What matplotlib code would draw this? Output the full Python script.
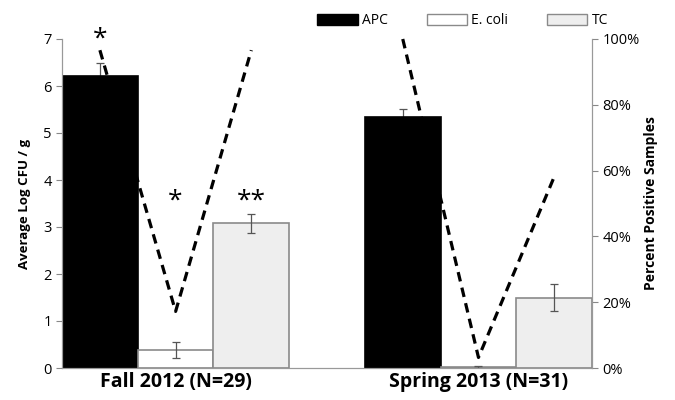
import matplotlib.pyplot as plt
from matplotlib.patches import Patch
from matplotlib.ticker import PercentFormatter

plt.rcParams['font.family'] = ['Open Sans', 'DejaVu Sans']

# data
seasons = ['Fall 2012 (N=29)', 'Spring 2013 (N=31)']
organisms = ['APC', 'E. coli', 'TC']
fall_log = [6.22, 0.39, 3.08]
fall_err = [0.28, 0.17, 0.20]
spring_log = [5.33, 0.03, 1.50]
spring_err = [0.18, 0.02, 0.28]
fall_pct = [0.966, 0.172, 0.966]
spring_pct = [1.0, 0.032, 0.581]
fall_marks = ['*', '*', '**']

colors = ['black', 'white', '#eeeeee']
edges = ['black', '#8a8a8a', '#8a8a8a']

fig = plt.figure(figsize=(6.75, 4), dpi=100)
ax = fig.add_axes([0.0919, 0.08, 0.7852, 0.8225])

group_x = [[0.5, 1.5, 2.5], [4.5, 5.5, 6.5]]
logs = [fall_log, spring_log]
errs = [fall_err, spring_err]
for g in range(2):
    for i in range(3):
        ax.bar(group_x[g][i], logs[g][i], width=1.0, color=colors[i],
               edgecolor=edges[i], linewidth=1.2, zorder=2)
        # APC whisker sits behind the black bar, only the top half shows
        z = 1 if i == 0 else 3
        ax.errorbar(group_x[g][i], logs[g][i], yerr=errs[g][i], fmt='none',
                    ecolor='#555555', elinewidth=0.9, capsize=3, capthick=0.9, zorder=z)

ax.set_xlim(0, 7)
ax.set_ylim(0, 7)
ax.set_yticks(range(8))
ax.set_xticks([1.5, 5.5])
ax.set_xticklabels(seasons, fontsize=14, fontweight='bold')
ax.tick_params(axis='x', length=0, pad=3)
ax.tick_params(axis='y', labelsize=10.5, colors='#888888', labelcolor='black', length=4)
ax.set_ylabel('Average Log CFU / g', fontsize=9.5, fontweight='bold', labelpad=9)
for s in ['left', 'bottom', 'right']:
    ax.spines[s].set_color('#999999')
ax.spines['top'].set_visible(False)

ax2 = ax.twinx()
ax2.plot(group_x[0], fall_pct, color='black', ls=(0, (3, 2)), lw=2.3, zorder=4, clip_on=False)
ax2.plot(group_x[1], spring_pct, color='black', ls=(0, (3, 2)), lw=2.3, zorder=4, clip_on=False)
ax2.set_ylim(0, 1)
ax2.set_yticks([0, 0.2, 0.4, 0.6, 0.8, 1.0])
ax2.yaxis.set_major_formatter(PercentFormatter(1.0, decimals=0))
ax2.tick_params(axis='y', labelsize=10.5, colors='#888888', labelcolor='black', length=4)
ax2.set_ylabel('Percent Positive Samples', fontsize=10, fontweight='bold', labelpad=3)
for s in ['left', 'bottom', 'right']:
    ax2.spines[s].set_color('#999999')
ax2.spines['top'].set_visible(False)

# significance marks
ax.text(group_x[0][0], 7.0, fall_marks[0], ha='center', va='center', fontsize=19, clip_on=False)
ax.text(group_x[0][1], 3.55, fall_marks[1], ha='center', va='center', fontsize=19)
ax.text(group_x[0][2], 3.55, fall_marks[2], ha='center', va='center', fontsize=19)

handles = [Patch(facecolor=c, edgecolor=e, linewidth=1) for c, e in zip(colors, edges)]
fig.legend(handles, organisms, loc='center left', bbox_to_anchor=(0.462, 0.948), ncol=3,
           frameon=False, fontsize=10, handlelength=2.9, handleheight=0.75,
           handletextpad=0.3, columnspacing=2.8, borderaxespad=0)

fig.savefig('out.png', dpi=100)
